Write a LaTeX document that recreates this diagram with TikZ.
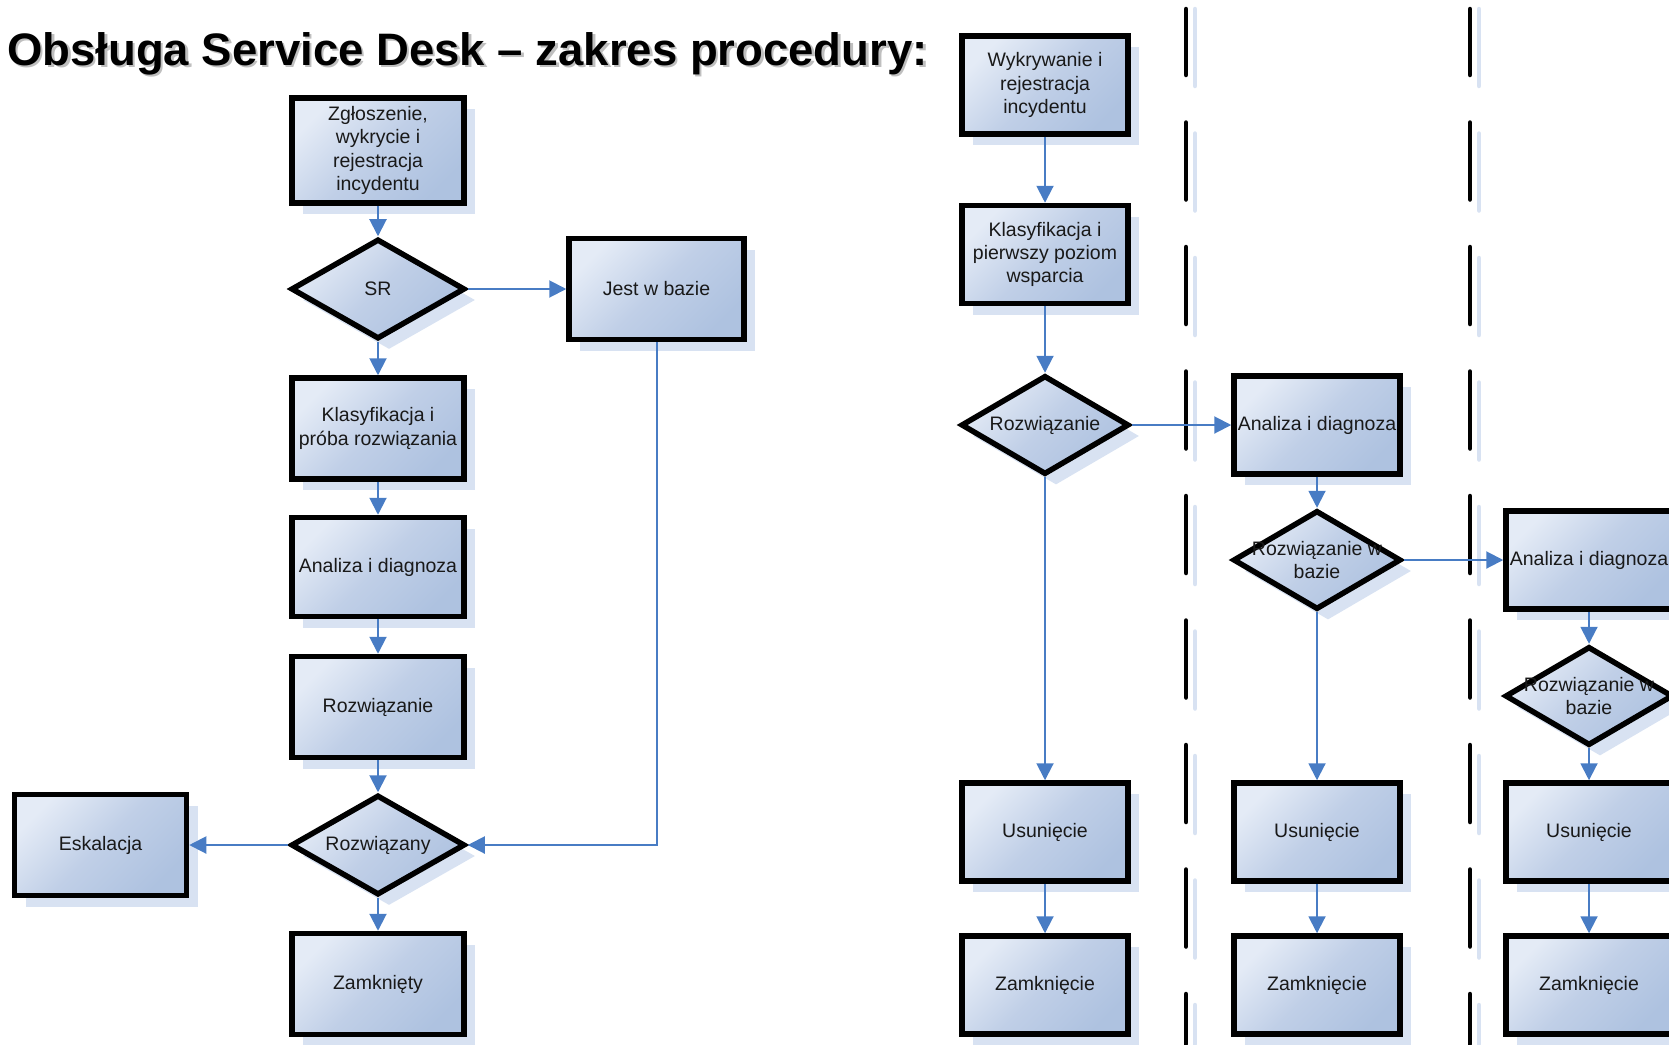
\documentclass[tikz,border=0pt]{standalone}
\usepackage{fontspec}
\setmainfont{Liberation Sans}
\usetikzlibrary{arrows.meta,shapes.geometric,shadows}

\definecolor{boxlight}{RGB}{228,235,246}
\definecolor{boxmid}{RGB}{192,207,231}
\definecolor{boxdark}{RGB}{174,194,224}
\definecolor{shadowblue}{RGB}{216,226,242}
\definecolor{flowblue}{RGB}{72,124,196}
\newcommand\boxfont{\fontsize{19.5}{23.4}\selectfont}

\tikzset{
	block/.style={rectangle, draw=black, line width=5.5pt, top color=boxlight, bottom color=boxdark, middle color=boxmid, shading angle=45, inner sep=0pt, align=center, text=black!90, font=\boxfont, minimum width=166pt, minimum height=98pt, drop shadow={shadow xshift=11pt, shadow yshift=-11pt, fill=shadowblue, opacity=1}},
	leftblock/.style={block, minimum width=172pt, minimum height=101pt},
	dtext/.style={align=center, text=black!90, font=\boxfont, inner sep=0pt},
	decision/.style={block, diamond, minimum width=168pt, minimum height=99pt, label={[dtext]center:#1}},
	flow/.style={draw=flowblue, line width=2pt, -{Triangle[length=17pt,width=17pt]}},
	lane/.style={line width=4.5pt, line cap=round, dash pattern=on 77pt off 47.5pt, dash phase=11pt},
	laneshadow/.style={lane, draw=shadowblue, dash phase=0pt},
	title/.style={font=\fontsize{45.5}{50}\selectfont\bfseries, inner sep=0pt, anchor=base west},
}

\begin{document}
\begin{tikzpicture}[x=1pt, y=-1pt]
	\useasboundingbox (0,0) rectangle (1669,1044);
	
	%%%%% TITLE %%%%%
	\node[title, text=black!25] (titleshadow) at (9.5,67.5) {Obsługa Service Desk – zakres procedury:};
	\node[title] (title) at (7,65) {Obsługa Service Desk – zakres procedury:};
	
	%%%%% LANES %%%%%
	\draw[laneshadow] (1195,9) -- (1195,1044);
	\draw[laneshadow] (1479,9) -- (1479,1044);
	\draw[lane] (1186,9) -- (1186,1044);
	\draw[lane] (1470,9) -- (1470,1044);
	
	%%%%% LEFT PROCEDURE %%%%%
	\node[leftblock, minimum height=105pt] (zgl) at (378,150.5) {Zgłoszenie,\\wykrycie i\\rejestracja\\incydentu};
	\node[decision=SR, minimum width=174pt, minimum height=100pt] (sr) at (378,289) {};
	\node[leftblock, minimum width=175pt] (jest) at (656.5,289) {Jest w bazie};
	\node[leftblock] (klas) at (378,428.5) {Klasyfikacja i\\próba rozwiązania};
	\node[leftblock, minimum height=99pt] (anal) at (378,567) {Analiza i diagnoza};
	\node[leftblock] (rozw) at (378,707) {Rozwiązanie};
	\node[decision=Rozwiązany, minimum width=174pt, minimum height=100pt] (rzd) at (378,845) {};
	\node[leftblock] (zamk) at (378,984) {Zamknięty};
	\node[leftblock] (eskal) at (100.5,845) {Eskalacja};
	
	\draw[flow] (zgl) -- (sr);
	\draw[flow] (sr) -- (jest);
	\draw[flow] (sr) -- (klas);
	\draw[flow] (klas) -- (anal);
	\draw[flow] (anal) -- (rozw);
	\draw[flow] (rozw) -- (rzd);
	\draw[flow] (rzd) -- (zamk);
	\draw[flow] (rzd) -- (eskal);
	\draw[flow] (jest.south) |- (rzd.east);
	
	%%%%% RIGHT PROCEDURE %%%%%
	\node[block] (wyk) at (1045,85) {Wykrywanie i\\rejestracja\\incydentu};
	\node[block] (klasr) at (1045,254.5) {Klasyfikacja i\\pierwszy poziom\\wsparcia};
	\node[decision=Rozwiązanie] (rozwa) at (1045,425) {};
	\node[block] (analb) at (1317,425) {Analiza i diagnoza};
	\node[decision={Rozwiązanie w\\bazie}] (bazb) at (1317,560) {};
	\node[block] (analc) at (1589,560) {Analiza i diagnoza};
	\node[decision={Rozwiązanie w\\bazie}] (bazc) at (1589,696) {};
	
	\foreach \col/\x in {a/1045,b/1317,c/1589}{
		\node[block] (usun\col) at (\x,832) {Usunięcie};
		\node[block] (zamk\col) at (\x,985) {Zamknięcie};
		\draw[flow] (usun\col) -- (zamk\col);
	}
	
	\draw[flow] (wyk) -- (klasr);
	\draw[flow] (klasr) -- (rozwa);
	\draw[flow] (rozwa) -- (analb);
	\draw[flow] (rozwa) -- (usuna);
	\draw[flow] (analb) -- (bazb);
	\draw[flow] (bazb) -- (analc);
	\draw[flow] (bazb) -- (usunb);
	\draw[flow] (analc) -- (bazc);
	\draw[flow] (bazc) -- (usunc);
\end{tikzpicture}
\end{document}
